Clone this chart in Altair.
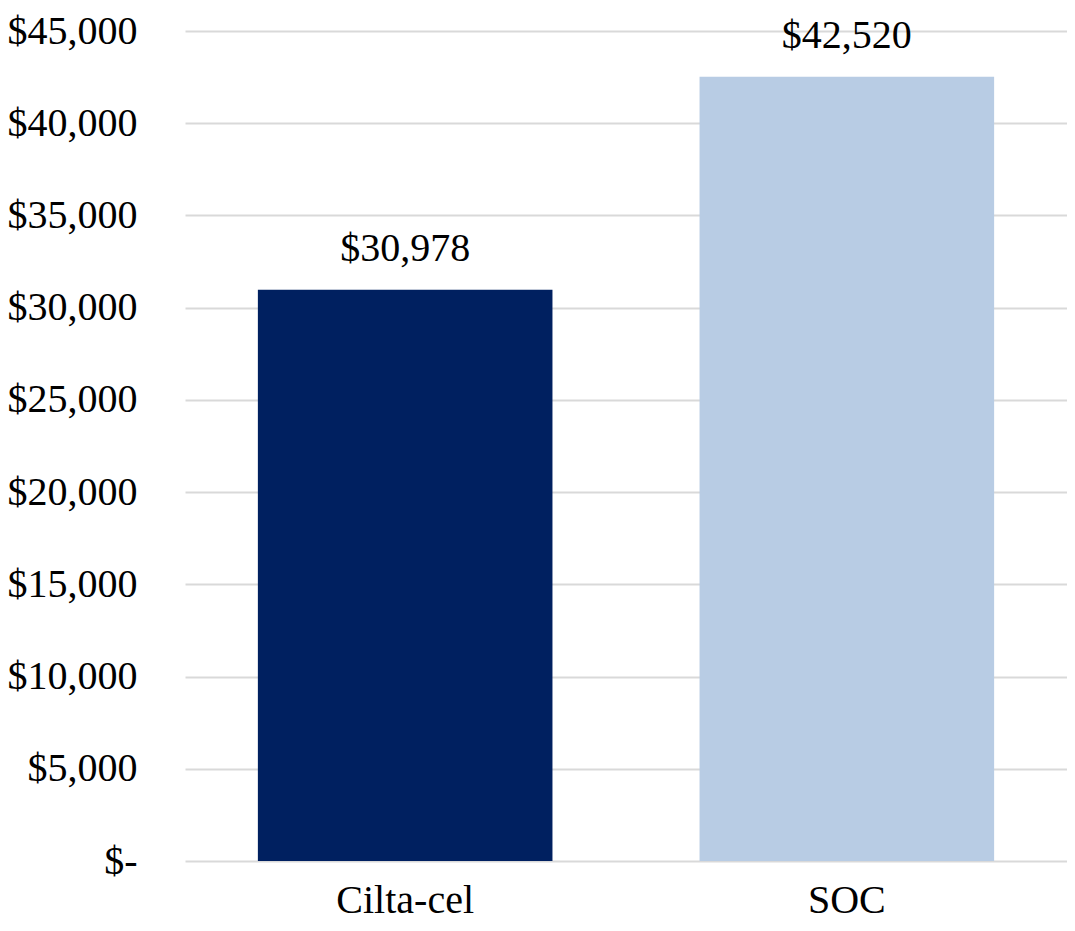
import altair as alt
import pandas as pd

categories = ["Cilta-cel", "SOC"]
values = [30978, 42520]
colors = ["#002060", "#B8CCE4"]
y_ticks = [0, 5000, 10000, 15000, 20000, 25000, 30000, 35000, 40000, 45000]

df = pd.DataFrame({"cat": categories, "val": values, "col": colors})
df["lbl"] = ["$" + f"{v:,}" for v in values]

FONT = "Liberation Serif"

x = alt.X("cat:N", sort=categories, title=None,
          scale=alt.Scale(paddingInner=0.333, paddingOuter=0.165),
          axis=alt.Axis(labelFont=FONT, labelFontSize=40, labelColor="black",
                        labelAngle=0, domain=False, ticks=False, labelPadding=19,
                        grid=False))

bars = alt.Chart(df).mark_bar().encode(
    x=x,
    y=alt.Y("val:Q", title=None,
            scale=alt.Scale(domain=[0, 45000], nice=False),
            axis=alt.Axis(values=y_ticks, labelFont=FONT, labelFontSize=40,
                          labelColor="black", domain=False, ticks=False,
                          labelPadding=48, gridColor="#D9D9D9", gridWidth=2,
                          labelExpr="datum.value == 0 ? '$-\u00a0\u00a0' : '$' + format(datum.value, ',')")),
    color=alt.Color("col:N", scale=None),
)

text = alt.Chart(df).mark_text(font=FONT, fontSize=40, color="black",
                               baseline="alphabetic", dy=-29).encode(
    x=alt.X("cat:N", sort=categories),
    y="val:Q",
    text="lbl:N",
)

chart = (bars + text).properties(
    width=882, height=830,
    autosize=alt.AutoSizeParams(type="none"),
    padding={"left": 177, "top": 23, "right": 0, "bottom": 62},
).configure(background="white").configure_view(stroke=None)

chart.save("out.html", embed_options={"renderer": "svg", "actions": False})
